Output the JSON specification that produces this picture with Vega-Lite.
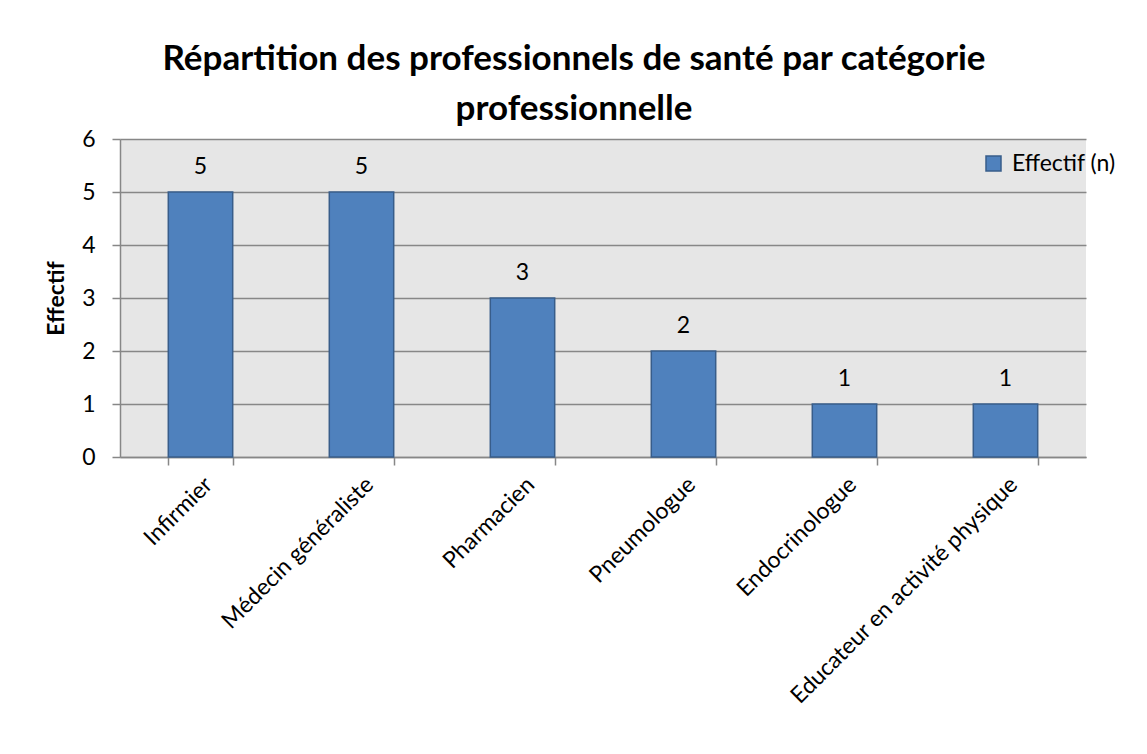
{
  "$schema": "https://vega.github.io/schema/vega-lite/v6.json",
  "width": 966,
  "height": 318,
  "autosize": "none",
  "padding": {"left": 120, "top": 139, "right": 61, "bottom": 297},
  "background": "white",
  "config": {
    "font": "Lato",
    "view": {"stroke": null, "fill": "#E6E6E6"}
  },
  "title": {
    "text": ["Répartition des professionnels de santé par catégorie", "professionnelle"],
    "font": "Lato",
    "fontSize": 35,
    "fontWeight": "bold",
    "color": "#000000",
    "anchor": "middle",
    "dx": -29,
    "offset": 1,
    "lineHeight": 50
  },
  "data": {
    "values": [
      {"categorie": "Infirmier", "effectif": 5, "serie": "Effectif (n)"},
      {"categorie": "Médecin généraliste", "effectif": 5, "serie": "Effectif (n)"},
      {"categorie": "Pharmacien", "effectif": 3, "serie": "Effectif (n)"},
      {"categorie": "Pneumologue", "effectif": 2, "serie": "Effectif (n)"},
      {"categorie": "Endocrinologue", "effectif": 1, "serie": "Effectif (n)"},
      {"categorie": "Educateur en activité physique", "effectif": 1, "serie": "Effectif (n)"}
    ]
  },
  "encoding": {
    "x": {
      "field": "categorie",
      "type": "nominal",
      "sort": null,
      "scale": {"paddingInner": 0.6, "paddingOuter": 0.3},
      "axis": {
        "title": null,
        "labelAngle": -45,
        "labelAlign": "right",
        "labelBaseline": "top",
        "labelFontSize": 23,
        "labelColor": "#000000",
        "labelFont": "Lato",
        "labelPadding": 8,
        "tickBand": "extent",
        "tickColor": "#878787",
        "tickSize": 8,
        "tickWidth": 1.5,
        "domainColor": "#878787",
        "domainWidth": 1.5,
        "labelLimit": 0
      }
    },
    "y": {
      "field": "effectif",
      "type": "quantitative",
      "scale": {"domain": [0, 6], "nice": false},
      "axis": {
        "title": "Effectif",
        "titleFontSize": 23,
        "titleFontWeight": "bold",
        "titleColor": "#000000",
        "titleFont": "Lato",
        "titlePadding": 13,
        "values": [0, 1, 2, 3, 4, 5, 6],
        "labelFontSize": 23,
        "labelColor": "#000000",
        "labelFont": "Lato",
        "labelPadding": 17,
        "tickSize": 8,
        "tickColor": "#878787",
        "tickWidth": 1.5,
        "domainColor": "#878787",
        "domainWidth": 1.5,
        "grid": true,
        "gridColor": "#878787",
        "gridWidth": 1.5
      }
    }
  },
  "layer": [
    {
      "mark": {"type": "bar", "stroke": "#385D8A", "strokeWidth": 1.5},
      "encoding": {
        "color": {
          "field": "serie",
          "type": "nominal",
          "scale": {"range": ["#4F81BD"]},
          "legend": {
            "title": null,
            "orient": "none",
            "legendX": 862,
            "legendY": 13,
            "symbolType": "square",
            "symbolSize": 225,
            "symbolStrokeColor": "#385D8A",
            "symbolStrokeWidth": 1.5,
            "labelFontSize": 23,
            "labelFont": "Lato",
            "labelColor": "#000000",
            "labelOffset": 7,
            "labelLimit": 0
          }
        }
      }
    },
    {
      "mark": {"type": "text", "baseline": "alphabetic", "dy": -18, "fontSize": 23, "font": "Lato", "color": "#000000"},
      "encoding": {
        "text": {"field": "effectif", "type": "quantitative"}
      }
    }
  ]
}
